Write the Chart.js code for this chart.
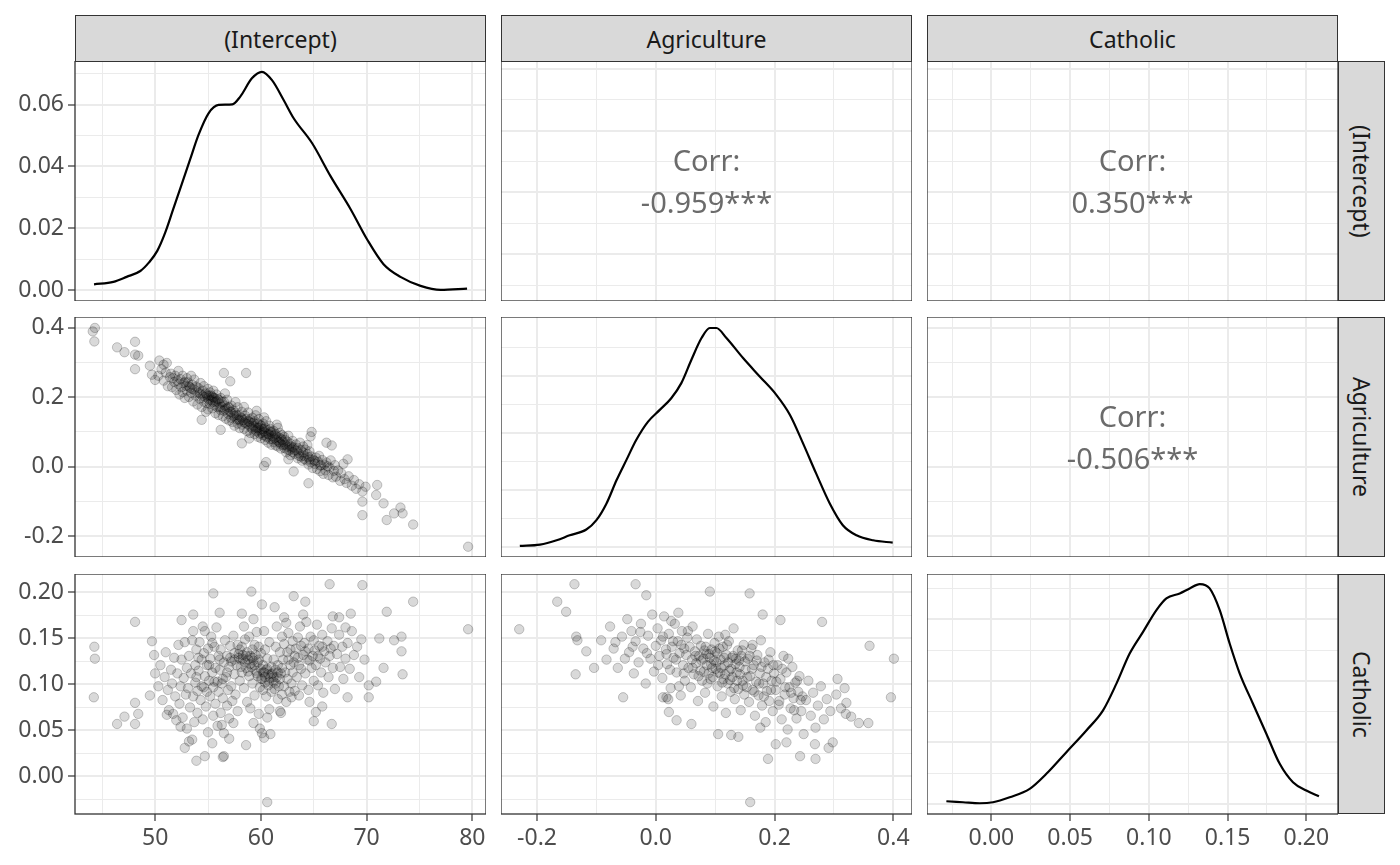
<!DOCTYPE html>
<html>
<head>
<meta charset="utf-8">
<script src="https://cdn.jsdelivr.net/npm/chart.js@4.4.1/dist/chart.umd.min.js"></script>
<style>
body { margin: 0; background: #fff; }
#wrap { position: relative; width: 1400px; height: 865px; background: #fff; overflow: hidden; font-family: "Noto Sans", sans-serif; }
#wrap canvas { position: absolute; }
.strip { position: absolute; background: #d9d9d9; border: 1.3px solid #333; box-sizing: border-box; color: #1a1a1a; font-size: 23px; display: flex; align-items: center; justify-content: center; z-index: 2; }
.vstrip { writing-mode: vertical-rl; }
.corr { position: absolute; color: #6b6b6b; font-size: 29px; line-height: 42px; text-align: center; z-index: 2; }
</style>
</head>
<body>
<div id="wrap"></div>
<script>
// variable names, in the order of the matrix
var varNames = ['(Intercept)', 'Agriculture', 'Catholic'];
var corrLabels = { '0,1': '-0.959***', '0,2': '0.350***', '1,2': '-0.506***' };

// axis ranges and breaks of each variable
var interceptRange = [42.42, 81.29];
var interceptMajor = [50, 60, 70, 80];
var interceptMinor = [45, 55, 65, 75];
var agricultureRange = [-0.2607, 0.4315];
var agricultureMajor = [-0.2, 0, 0.2, 0.4];
var agricultureMinor = [-0.1, 0.1, 0.3];
var catholicRange = [-0.0409, 0.2201];
var catholicMajor = [0, 0.05, 0.1, 0.15, 0.2];
var catholicMinor = [-0.025, 0.025, 0.075, 0.125, 0.175];

// density axes of the diagonal
var interceptDensRange = [-0.0035, 0.0741];
var interceptDensMajor = [0, 0.02, 0.04, 0.06];
var interceptDensMinor = [0.01, 0.03, 0.05, 0.07];
var agricultureDensRange = [-0.176, 4.03];
var agricultureDensMajor = [0, 1, 2, 3];
var agricultureDensMinor = [0.5, 1.5, 2.5, 3.5];
var catholicDensRange = [-0.41, 9.35];
var catholicDensMajor = [0, 2.5, 5, 7.5];
var catholicDensMinor = [1.25, 3.75, 6.25, 8.75];

// density curves
var interceptDensX = [44.22, 46.05, 47.3, 48.6, 49.4, 50.2, 50.95, 51.7, 52.5, 53.3, 54.1, 55.05, 56.0, 57.3, 58.05, 59.15, 60.1, 61.05, 62.15, 63.1, 64.85, 66.6, 68.5, 70.05, 71.6, 73.2, 75.1, 77.0, 79.5];
var interceptDensY = [0.0019, 0.0027, 0.0043, 0.0062, 0.0089, 0.0127, 0.0186, 0.0261, 0.0341, 0.0422, 0.0502, 0.0572, 0.0599, 0.0601, 0.0626, 0.0685, 0.0706, 0.0679, 0.0615, 0.0556, 0.0475, 0.0368, 0.0261, 0.0164, 0.0084, 0.0043, 0.0014, 0.0001, 0.0005];
var agricultureDensX = [-0.229, -0.195, -0.167, -0.145, -0.117, -0.100, -0.083, -0.066, -0.049, -0.033, -0.013, 0.0067, 0.026, 0.043, 0.060, 0.077, 0.091, 0.102, 0.119, 0.147, 0.175, 0.203, 0.226, 0.248, 0.270, 0.293, 0.315, 0.338, 0.366, 0.399];
var agricultureDensY = [0.018, 0.041, 0.117, 0.205, 0.305, 0.469, 0.762, 1.172, 1.535, 1.875, 2.197, 2.402, 2.607, 2.871, 3.281, 3.661, 3.837, 3.837, 3.661, 3.310, 2.988, 2.666, 2.314, 1.816, 1.289, 0.762, 0.381, 0.205, 0.117, 0.076];
var catholicDensX = [-0.0286, -0.018, -0.0074, 0.001, 0.0116, 0.0243, 0.0349, 0.0476, 0.0603, 0.0709, 0.0794, 0.0878, 0.0963, 0.1048, 0.1111, 0.1196, 0.1259, 0.1323, 0.1386, 0.145, 0.1513, 0.1577, 0.1661, 0.1746, 0.1831, 0.1915, 0.2, 0.208];
var catholicDensY = [0.109, 0.068, 0.027, 0.068, 0.272, 0.611, 1.223, 2.106, 2.989, 3.804, 4.891, 6.114, 6.997, 7.880, 8.356, 8.560, 8.764, 8.940, 8.764, 7.880, 6.522, 5.299, 4.076, 2.853, 1.630, 0.883, 0.543, 0.312];

// scatter points: [x, y]
var interceptVsAgriculture = [
[44.1,0.39],[44.3,0.40],[44.25,0.361],[46.4,0.344],[47.1,0.33],[48.1,0.36],[48.1,0.323],[48.4,0.32],[48.1,0.281],[49.5,0.291],[49.7,0.265],[50.0,0.25],[50.4,0.306],[50.8,0.294],[51.1,0.299],[58.6,0.27],[56.5,0.27],[57.1,0.246],[56.2,0.106],[58.2,0.067],[54.4,0.135],[60.3,0.002],[60.5,0.013],[63.1,-0.014],[64.5,-0.048],[64.8,0.10],[64.7,0.087],[66.2,0.069],[66.7,0.061],[68.2,0.021],[69.6,-0.101],[69.6,-0.14],[71.0,-0.053],[70.9,-0.082],[71.6,-0.106],[71.9,-0.154],[72.6,-0.135],[73.2,-0.118],[73.4,-0.135],[74.4,-0.167],[79.6,-0.231],
[50.3,0.262],[50.6,0.281],[50.8,0.248],[51.0,0.271],[51.2,0.232],[51.4,0.258],
[51.5,0.268],[51.6,0.229],[51.7,0.255],[51.8,0.244],[51.9,0.262],[52.0,0.221],[52.1,0.248],[52.2,0.276],
[52.2,0.238],[52.3,0.208],[52.4,0.252],[52.5,0.229],[52.6,0.262],[52.6,0.215],[52.7,0.241],[52.8,0.198],[52.9,0.233],[53.0,0.255],[53.0,0.219],
[53.1,0.243],[53.2,0.201],[53.3,0.228],[53.4,0.262],[53.4,0.213],[53.5,0.236],[53.6,0.188],[53.7,0.222],[53.7,0.251],[53.8,0.205],[53.9,0.231],[54.0,0.179],[54.0,0.214],
[54.1,0.226],[54.2,0.196],[54.3,0.241],[54.3,0.208],[54.4,0.172],[54.5,0.219],[54.6,0.187],[54.6,0.232],[54.7,0.201],[54.8,0.158],[54.8,0.211],[54.9,0.183],[55.0,0.224],[55.0,0.196],[55.0,0.165],
[55.1,0.205],[55.2,0.181],[55.2,0.214],[55.3,0.192],[55.4,0.168],[55.4,0.201],[55.5,0.187],[55.5,0.219],[55.6,0.176],[55.6,0.198],[55.7,0.154],[55.8,0.189],[55.8,0.208],[55.9,0.171],[56.0,0.193],[56.0,0.149],
[56.1,0.182],[56.2,0.163],[56.2,0.198],[56.3,0.172],[56.4,0.145],[56.5,0.187],[56.5,0.161],[56.6,0.176],[56.7,0.138],[56.8,0.167],[56.8,0.193],[56.9,0.152],[57.0,0.171],[57.0,0.133],[56.6,0.211],
[57.1,0.158],[57.2,0.141],[57.2,0.176],[57.3,0.129],[57.4,0.162],[57.5,0.147],[57.5,0.118],[57.6,0.155],[57.7,0.136],[57.8,0.171],[57.8,0.124],[57.9,0.148],[58.0,0.133],[58.0,0.111],[57.6,0.186],
[58.1,0.142],[58.2,0.121],[58.2,0.158],[58.3,0.134],[58.4,0.109],[58.5,0.147],[58.5,0.126],[58.6,0.138],[58.7,0.102],[58.8,0.131],[58.8,0.156],[58.9,0.118],[59.0,0.137],[59.0,0.097],[58.4,0.172],[58.9,0.081],
[59.1,0.126],[59.2,0.108],[59.2,0.141],[59.3,0.117],[59.4,0.094],[59.4,0.131],[59.5,0.112],[59.5,0.148],[59.6,0.101],[59.7,0.124],[59.7,0.086],[59.8,0.113],[59.8,0.137],[59.9,0.095],[60.0,0.118],[60.0,0.082],[59.6,0.161],[59.9,0.105],
[60.1,0.109],[60.2,0.091],[60.2,0.124],[60.3,0.101],[60.4,0.077],[60.4,0.113],[60.5,0.096],[60.5,0.131],[60.6,0.084],[60.7,0.105],[60.7,0.069],[60.8,0.092],[60.8,0.118],[60.9,0.079],[61.0,0.099],[61.0,0.063],[60.3,0.142],[60.9,0.108],
[61.1,0.088],[61.2,0.071],[61.2,0.103],[61.3,0.082],[61.4,0.061],[61.4,0.094],[61.5,0.076],[61.6,0.112],[61.6,0.058],[61.7,0.084],[61.8,0.069],[61.8,0.097],[61.9,0.052],[62.0,0.077],[62.0,0.091],[61.5,0.121],[61.9,0.064],
[62.1,0.071],[62.2,0.054],[62.2,0.086],[62.3,0.063],[62.4,0.041],[62.5,0.072],[62.5,0.058],[62.6,0.089],[62.7,0.047],[62.8,0.066],[62.8,0.033],[62.9,0.057],[63.0,0.074],[63.0,0.042],[62.6,0.021],
[63.1,0.055],[63.2,0.037],[63.3,0.064],[63.4,0.046],[63.5,0.024],[63.5,0.053],[63.6,0.038],[63.7,0.069],[63.8,0.029],[63.8,0.048],[63.9,0.017],[64.0,0.041],[64.0,0.058],
[64.1,0.031],[64.2,0.049],[64.3,0.018],[64.4,0.036],[64.5,0.006],[64.5,0.027],[64.6,0.044],[64.7,0.013],[64.8,0.029],[64.9,-0.004],[65.0,0.019],[64.4,0.062],
[65.1,0.008],[65.2,0.026],[65.3,-0.007],[65.4,0.014],[65.5,0.031],[65.6,-0.013],[65.7,0.004],[65.8,0.019],[65.9,-0.021],[66.0,0.006],
[66.1,-0.011],[66.2,0.012],[66.4,-0.024],[66.5,-0.003],[66.6,0.018],[66.8,-0.031],[66.9,-0.012],[67.0,0.004],
[67.1,-0.029],[67.3,-0.011],[67.5,-0.041],[67.6,-0.019],[67.8,0.008],[67.9,-0.036],
[68.1,-0.047],[68.3,-0.028],[68.6,-0.055],[68.8,-0.039],[69.0,-0.064],
[69.3,-0.051],[69.6,-0.072],[69.9,-0.058],
[54.2,0.212],[54.5,0.203],[54.9,0.205],[55.1,0.193],[55.3,0.205],[55.5,0.199],[55.7,0.186],[55.9,0.195],[56.1,0.171],[56.3,0.186],[56.6,0.165],[56.9,0.171],[57.2,0.158],[57.4,0.146],[57.7,0.149],[57.9,0.136],[58.2,0.139],[58.4,0.128],[58.7,0.123],[58.9,0.129],[59.1,0.112],[59.3,0.127],[59.5,0.104],[59.7,0.111],[59.9,0.121],[60.1,0.097],[60.3,0.109],[60.5,0.087],[60.7,0.094],[60.9,0.101],[61.1,0.079],[61.3,0.092],[61.5,0.086],[61.7,0.071],[61.9,0.081],[62.1,0.062],[62.3,0.077],[62.5,0.049],[62.7,0.061],[62.9,0.052],[63.2,0.047],[63.6,0.031],[64.1,0.022],[64.6,0.021],[65.1,0.016],[65.6,0.003],[66.3,0.001],[53.5,0.224],[53.2,0.231],[52.8,0.244]
];

var interceptVsCatholic = [
[44.25,0.141],[44.3,0.128],[44.2,0.086],[46.4,0.057],[47.1,0.065],[48.1,0.168],[48.1,0.080],[48.1,0.057],[48.4,0.068],[49.5,0.088],[49.7,0.147],[49.9,0.132],[50.0,0.112],[55.5,0.199],[59.1,0.201],[66.5,0.209],[69.6,0.208],[74.4,0.19],[71.9,0.179],[79.6,0.160],[60.6,-0.028],[53.9,0.017],[54.7,0.022],[56.4,0.021],[56.5,0.022],[58.6,0.034],[52.8,0.031],[63.1,0.196],[64.2,0.19],[66.7,0.057],[68.2,0.086],[70.2,0.086],[70.2,0.099],[70.9,0.103],[71.6,0.118],[73.4,0.111],[73.3,0.136],[72.6,0.148],[73.3,0.152],[71.2,0.15],[52.5,0.170],[53.6,0.176],[56.1,0.178],[58.2,0.177],[60.1,0.187],[61.3,0.184],[62.2,0.173],[66.8,0.174],[68.5,0.177],[67.4,0.173],[51.1,0.067],[51.7,0.068],[52.4,0.054],[53.2,0.038],[53.5,0.040],[55.4,0.036],[57.0,0.041],[59.3,0.058],[60.1,0.047],[60.9,0.046],[60.3,0.042],[65.0,0.060],[65.2,0.070],[65.8,0.076],
[50.3,0.098],[50.5,0.121],[50.7,0.083],[50.9,0.108],[51.0,0.135],[51.2,0.094],[51.3,0.072],[51.5,0.116],[51.6,0.101],[51.8,0.129],[51.9,0.087],[52.0,0.061],
[52.1,0.112],[52.2,0.143],[52.3,0.079],[52.4,0.098],[52.5,0.127],[52.6,0.064],[52.7,0.107],[52.8,0.146],[52.9,0.089],[53.0,0.118],[53.0,0.052],
[53.1,0.096],[53.2,0.131],[53.3,0.075],[53.4,0.112],[53.5,0.148],[53.6,0.087],[53.7,0.059],[53.8,0.121],[53.8,0.102],[53.9,0.138],[54.0,0.069],[54.0,0.093],[53.6,0.158],
[54.1,0.115],[54.2,0.146],[54.3,0.083],[54.4,0.127],[54.4,0.098],[54.5,0.062],[54.6,0.134],[54.7,0.109],[54.7,0.158],[54.8,0.076],[54.9,0.121],[54.9,0.092],[55.0,0.139],[55.0,0.048],[54.5,0.163],
[55.1,0.104],[55.2,0.128],[55.2,0.087],[55.3,0.152],[55.4,0.113],[55.5,0.066],[55.5,0.097],[55.6,0.141],[55.7,0.118],[55.7,0.079],[55.8,0.162],[55.9,0.103],[55.9,0.055],[56.0,0.131],[56.0,0.092],[55.4,0.145],
[56.1,0.116],[56.2,0.069],[56.2,0.138],[56.3,0.101],[56.4,0.085],[56.5,0.124],[56.5,0.047],[56.6,0.148],[56.7,0.108],[56.8,0.077],[56.8,0.131],[56.9,0.094],[57.0,0.119],[57.0,0.063],[56.3,0.056],
[57.1,0.142],[57.2,0.098],[57.2,0.125],[57.3,0.082],[57.4,0.153],[57.5,0.111],[57.5,0.134],[57.6,0.089],[57.7,0.121],[57.8,0.143],[57.8,0.071],[57.9,0.129],[58.0,0.104],[58.0,0.138],[57.4,0.058],
[58.1,0.127],[58.2,0.141],[58.2,0.113],[58.3,0.132],[58.4,0.096],[58.5,0.124],[58.5,0.149],[58.6,0.118],[58.7,0.135],[58.7,0.081],[58.8,0.127],[58.9,0.109],[58.9,0.152],[59.0,0.131],[59.0,0.074],[58.4,0.163],
[59.1,0.119],[59.2,0.138],[59.2,0.101],[59.3,0.126],[59.4,0.143],[59.4,0.088],[59.5,0.115],[59.5,0.132],[59.6,0.157],[59.7,0.109],[59.7,0.124],[59.8,0.068],[59.8,0.141],[59.9,0.097],[60.0,0.117],[60.0,0.134],[59.3,0.171],[59.9,0.052],
[60.1,0.106],[60.2,0.121],[60.2,0.094],[60.3,0.113],[60.4,0.138],[60.4,0.102],[60.5,0.087],[60.5,0.116],[60.6,0.128],[60.7,0.099],[60.7,0.111],[60.8,0.146],[60.8,0.073],[60.9,0.107],[61.0,0.119],[61.0,0.092],[60.3,0.158],[60.6,0.064],
[61.1,0.112],[61.2,0.103],[61.2,0.127],[61.3,0.095],[61.4,0.116],[61.4,0.141],[61.5,0.108],[61.6,0.084],[61.6,0.121],[61.7,0.098],[61.8,0.135],[61.8,0.071],[61.9,0.112],[62.0,0.152],[62.0,0.089],[61.5,0.163],[61.9,0.069],
[62.1,0.127],[62.2,0.098],[62.2,0.144],[62.3,0.113],[62.4,0.081],[62.5,0.135],[62.5,0.106],[62.6,0.156],[62.7,0.092],[62.8,0.121],[62.8,0.138],[62.9,0.086],[63.0,0.113],[63.0,0.147],[62.4,0.167],
[63.1,0.124],[63.2,0.093],[63.3,0.139],[63.4,0.108],[63.5,0.151],[63.5,0.129],[63.6,0.088],[63.7,0.163],[63.8,0.117],[63.8,0.142],[63.9,0.099],[64.0,0.176],[64.0,0.132],
[64.1,0.145],[64.2,0.112],[64.3,0.168],[64.4,0.127],[64.5,0.094],[64.5,0.139],[64.6,0.081],[64.7,0.152],[64.8,0.118],[64.9,0.131],[65.0,0.148],[65.0,0.104],
[65.1,0.137],[65.2,0.121],[65.3,0.165],[65.4,0.099],[65.5,0.142],[65.6,0.128],[65.7,0.113],[65.8,0.154],[65.9,0.091],[66.0,0.136],
[66.1,0.124],[66.3,0.147],[66.4,0.108],[66.5,0.131],[66.7,0.161],[66.8,0.118],[66.9,0.142],[67.0,0.095],
[67.2,0.133],[67.4,0.154],[67.5,0.119],[67.7,0.141],[67.8,0.106],[68.0,0.162],[68.0,0.128],
[68.2,0.145],[68.4,0.117],[68.6,0.158],[68.8,0.132],[69.1,0.141],[69.3,0.108],[69.5,0.149],[69.8,0.127],
[58.1,0.119],[58.3,0.128],[58.6,0.131],[58.8,0.114],[59.0,0.122],[59.2,0.129],[59.4,0.121],[59.6,0.112],[59.8,0.127],[60.0,0.106],[60.2,0.113],[60.4,0.108],[60.6,0.117],[60.8,0.103],[61.0,0.111],[61.2,0.108],[61.4,0.101],[61.6,0.113],[61.8,0.106],[62.0,0.118],[57.5,0.127],[57.9,0.133],[56.4,0.106],[56.8,0.113],[55.6,0.103],[55.1,0.121],[54.6,0.097],[53.9,0.108],[63.2,0.131],[63.6,0.121],[64.2,0.136],[64.6,0.126],[65.4,0.131],[65.8,0.141],[66.6,0.139],[62.6,0.127],[62.9,0.101],[57.1,0.129],[56.1,0.127],[54.1,0.129]
];

var agricultureVsCatholic = [
[-0.230,0.160],[-0.137,0.209],[-0.034,0.209],[-0.166,0.190],[-0.151,0.179],[-0.134,0.152],[-0.132,0.148],[-0.117,0.136],[-0.135,0.111],[-0.104,0.118],[-0.055,0.086],[-0.016,0.197],[0.091,0.201],[0.158,0.199],[0.180,0.176],[0.210,0.170],[0.280,0.168],[0.360,0.142],[0.401,0.128],[0.396,0.086],[0.306,0.106],[0.321,0.080],[0.320,0.068],[0.329,0.065],[0.342,0.058],[0.358,0.058],[0.298,0.037],[0.291,0.031],[0.268,0.035],[0.269,0.019],[0.243,0.022],[0.189,0.019],[0.159,-0.028],[0.202,0.035],[0.220,0.037],[0.035,0.061],[0.022,0.070],[0.060,0.057],[0.105,0.046],[0.127,0.045],[0.139,0.043],[0.012,0.086],[0.018,0.086],
[-0.092,0.148],[-0.083,0.127],[-0.077,0.163],[-0.071,0.139],[-0.064,0.118],[-0.057,0.152],
[-0.048,0.171],[-0.045,0.135],[-0.041,0.158],[-0.037,0.112],[-0.034,0.147],[-0.029,0.124],[-0.025,0.166],[-0.021,0.139],[-0.017,0.101],[-0.013,0.153],[-0.009,0.128],[-0.006,0.176],[-0.003,0.114],[0.000,0.142],
[0.003,0.161],[0.006,0.131],[0.009,0.148],[0.011,0.107],[0.014,0.174],[0.017,0.138],[0.019,0.122],[0.022,0.155],[0.025,0.096],[0.027,0.141],[0.030,0.129],[0.032,0.166],[0.035,0.113],[0.037,0.147],[0.040,0.134],[0.042,0.088],[0.044,0.158],[0.046,0.121],[0.048,0.139],[0.049,0.104],[0.038,0.178],[0.021,0.084],
[0.051,0.132],[0.053,0.151],[0.055,0.118],[0.057,0.141],[0.059,0.097],[0.061,0.127],[0.062,0.163],[0.064,0.111],[0.066,0.136],[0.068,0.123],[0.069,0.149],[0.071,0.082],[0.073,0.131],[0.075,0.115],[0.076,0.142],[0.078,0.104],[0.080,0.128],[0.082,0.137],[0.083,0.091],[0.085,0.133],[0.086,0.121],[0.088,0.155],[0.089,0.112],[0.091,0.129],[0.092,0.106],[0.094,0.138],[0.095,0.118],[0.097,0.076],[0.098,0.126],[0.099,0.145],
[0.101,0.117],[0.103,0.134],[0.104,0.098],[0.106,0.152],[0.108,0.112],[0.109,0.127],[0.111,0.087],[0.113,0.141],[0.114,0.106],[0.116,0.121],[0.118,0.069],[0.119,0.132],[0.121,0.101],[0.123,0.147],[0.124,0.115],[0.126,0.092],[0.128,0.129],[0.129,0.108],[0.131,0.161],[0.133,0.084],[0.134,0.122],[0.136,0.113],[0.138,0.137],[0.139,0.095],[0.141,0.119],[0.143,0.072],[0.144,0.131],[0.146,0.104],[0.148,0.143],[0.149,0.089],
[0.151,0.116],[0.153,0.097],[0.155,0.128],[0.157,0.081],[0.159,0.109],[0.161,0.139],[0.163,0.094],[0.165,0.121],[0.167,0.066],[0.169,0.103],[0.171,0.132],[0.173,0.088],[0.175,0.112],[0.177,0.148],[0.179,0.077],[0.181,0.101],[0.183,0.124],[0.185,0.059],[0.187,0.093],[0.189,0.117],[0.191,0.082],[0.193,0.135],[0.195,0.104],[0.197,0.071],[0.199,0.112],[0.176,0.053],
[0.202,0.094],[0.205,0.121],[0.207,0.078],[0.210,0.106],[0.212,0.062],[0.215,0.131],[0.217,0.089],[0.220,0.113],[0.222,0.051],[0.225,0.097],[0.227,0.074],[0.230,0.119],[0.232,0.085],[0.235,0.102],[0.237,0.063],[0.240,0.092],[0.242,0.109],[0.245,0.071],[0.247,0.087],[0.249,0.046],
[0.253,0.083],[0.257,0.104],[0.261,0.066],[0.265,0.091],[0.269,0.053],[0.273,0.077],[0.278,0.098],[0.283,0.062],[0.288,0.084],[0.294,0.071],
[0.304,0.089],[0.312,0.074],[0.318,0.096],
[0.062,0.118],[0.067,0.131],[0.072,0.109],[0.077,0.126],[0.081,0.114],[0.084,0.141],[0.087,0.101],[0.090,0.133],[0.093,0.122],[0.096,0.108],[0.100,0.136],[0.102,0.124],[0.105,0.113],[0.107,0.139],[0.110,0.118],[0.112,0.102],[0.115,0.129],[0.117,0.111],[0.120,0.143],[0.122,0.124],[0.125,0.105],[0.127,0.117],[0.130,0.131],[0.132,0.096],[0.135,0.128],[0.137,0.104],[0.140,0.126],[0.142,0.111],[0.145,0.137],[0.147,0.099],[0.150,0.125],[0.154,0.108],[0.158,0.131],[0.162,0.117],[0.166,0.092],[0.170,0.126],[0.174,0.101],[0.178,0.119],[0.182,0.087],[0.186,0.108],[0.190,0.127],[0.194,0.094],[0.198,0.121],[0.203,0.103],[0.208,0.082],[0.213,0.117],[0.218,0.097],[0.223,0.128],[0.228,0.091],[0.233,0.072],[0.238,0.104],[0.244,0.083],[0.004,0.121],[0.012,0.152],[0.018,0.133],[0.024,0.116],[0.029,0.147],[0.034,0.127],[0.039,0.098],[0.043,0.143],[0.047,0.112],[-0.015,0.134],[-0.026,0.157],[-0.039,0.141],[-0.052,0.128],[-0.068,0.146],[0.026,0.169],[0.054,0.158],[0.117,0.154],[0.163,0.143]
];

// layout of the panel grid
var colLeft = [75, 501, 927];
var rowTop = [61, 317, 574];
var panelW = 411;
var panelH = 240;
var yAxisW = 75;
var xAxisH = 52;
var stripTop = 15;
var stripRight = 1338;

Chart.defaults.font.family = "'Noto Sans', sans-serif";

// scales of each variable: [range, major, minor, decimals]
var varScales = [
    [interceptRange, interceptMajor, interceptMinor, 0],
    [agricultureRange, agricultureMajor, agricultureMinor, 1],
    [catholicRange, catholicMajor, catholicMinor, 2]
];
var densScales = [
    [interceptDensRange, interceptDensMajor, interceptDensMinor, 2],
    [agricultureDensRange, agricultureDensMajor, agricultureDensMinor, 2],
    [catholicDensRange, catholicDensMajor, catholicDensMinor, 2]
];
var densCurves = [
    [interceptDensX, interceptDensY],
    [agricultureDensX, agricultureDensY],
    [catholicDensX, catholicDensY]
];
// lower panels: row,col -> points
var scatterData = {
    '1,0': interceptVsAgriculture,
    '2,0': interceptVsCatholic,
    '2,1': agricultureVsCatholic
};

function isMajor(v, major) {
    for (var i = 0; i < major.length; i++) {
        if (Math.abs(major[i] - v) < 1e-9) return true;
    }
    return false;
}

function axisOptions(sc, show, isX) {
    var range = sc[0], major = sc[1], minor = sc[2], digits = sc[3];
    return {
        type: 'linear',
        min: range[0],
        max: range[1],
        afterBuildTicks: function (scale) {
            scale.ticks = major.concat(minor).sort(function (a, b) { return a - b; }).map(function (v) { return { value: v }; });
        },
        afterFit: function (scale) {
            // fixed axis size and no extra room for label overhang
            if (isX) scale.height = show ? xAxisH : 0;
            else scale.width = show ? yAxisW : 0;
            scale.paddingTop = 0;
            scale.paddingBottom = 0;
            scale.paddingLeft = 0;
            scale.paddingRight = 0;
        },
        ticks: {
            display: show,
            autoSkip: false,
            maxRotation: 0,
            padding: 4,
            color: '#4d4d4d',
            font: { size: 23 },
            callback: function (v) { return isMajor(v, major) ? v.toFixed(digits) : ''; }
        },
        grid: {
            color: '#ebebeb',
            lineWidth: function (ctx) { return ctx.tick && isMajor(ctx.tick.value, major) ? 2 : 1; },
            drawTicks: show,
            tickLength: 7,
            tickWidth: 1.2,
            tickColor: function (ctx) { return ctx.tick && isMajor(ctx.tick.value, major) ? '#333333' : 'rgba(0,0,0,0)'; }
        },
        border: { display: false }
    };
}

// draws the panel frame round the chart area
var panelBorder = {
    id: 'panelBorder',
    afterDraw: function (chart) {
        var a = chart.chartArea, ctx = chart.ctx;
        ctx.save();
        ctx.strokeStyle = '#333333';
        ctx.lineWidth = 1.3;
        ctx.strokeRect(a.left, a.top, a.right - a.left, a.bottom - a.top);
        ctx.restore();
    }
};

var wrap = document.getElementById('wrap');

for (var r = 0; r < 3; r++) {
    for (var c = 0; c < 3; c++) {
        var canvas = document.createElement('canvas');
        var left = colLeft[c] - (c == 0 ? yAxisW : 0);
        var w = panelW + (c == 0 ? yAxisW : 0);
        var h = panelH + (r == 2 ? xAxisH : 0);
        canvas.width = w;
        canvas.height = h;
        canvas.style.left = left + 'px';
        canvas.style.top = rowTop[r] + 'px';
        canvas.style.width = w + 'px';
        canvas.style.height = h + 'px';
        wrap.appendChild(canvas);

        var xScale = varScales[c];
        var yScale = (r == c) ? densScales[r] : varScales[r];
        var datasets = [];
        var key = r + ',' + c;

        if (r == c) {
            var curve = densCurves[r];
            datasets.push({
                type: 'line',
                data: curve[0].map(function (x, i) { return { x: x, y: curve[1][i] }; }),
                borderColor: '#000000',
                borderWidth: 2.2,
                pointRadius: 0,
                fill: false,
                cubicInterpolationMode: 'monotone'
            });
        } else if (scatterData[key]) {
            datasets.push({
                data: scatterData[key].map(function (p) { return { x: p[0], y: p[1] }; }),
                pointRadius: 4.7,
                backgroundColor: 'rgba(0,0,0,0.15)',
                borderColor: 'rgba(0,0,0,0.21)',
                borderWidth: 1
            });
        } else {
            datasets.push({ data: [] });
        }

        new Chart(canvas, {
            type: 'scatter',
            data: { datasets: datasets },
            options: {
                responsive: false,
                animation: false,
                events: [],
                layout: { padding: 0, autoPadding: false },
                plugins: { legend: { display: false }, tooltip: { enabled: false } },
                scales: {
                    x: axisOptions(xScale, r == 2, true),
                    y: axisOptions(yScale, c == 0, false)
                }
            },
            plugins: [panelBorder]
        });

        // correlation text in the upper panels
        if (corrLabels[key]) {
            var t = document.createElement('div');
            t.className = 'corr';
            t.style.left = colLeft[c] + 'px';
            t.style.width = panelW + 'px';
            t.style.top = (rowTop[r] + panelH / 2 - 42) + 'px';
            t.innerHTML = 'Corr:<br>' + corrLabels[key];
            wrap.appendChild(t);
        }
    }
}

// facet strips
for (var i = 0; i < 3; i++) {
    var s = document.createElement('div');
    s.className = 'strip';
    s.style.left = colLeft[i] + 'px';
    s.style.top = stripTop + 'px';
    s.style.width = panelW + 'px';
    s.style.height = (rowTop[0] - stripTop + 1) + 'px';
    s.textContent = varNames[i];
    wrap.appendChild(s);

    var v = document.createElement('div');
    v.className = 'strip vstrip';
    v.style.left = stripRight + 'px';
    v.style.top = rowTop[i] + 'px';
    v.style.width = '47px';
    v.style.height = panelH + 'px';
    v.textContent = varNames[i];
    wrap.appendChild(v);
}
</script>
</body>
</html>
